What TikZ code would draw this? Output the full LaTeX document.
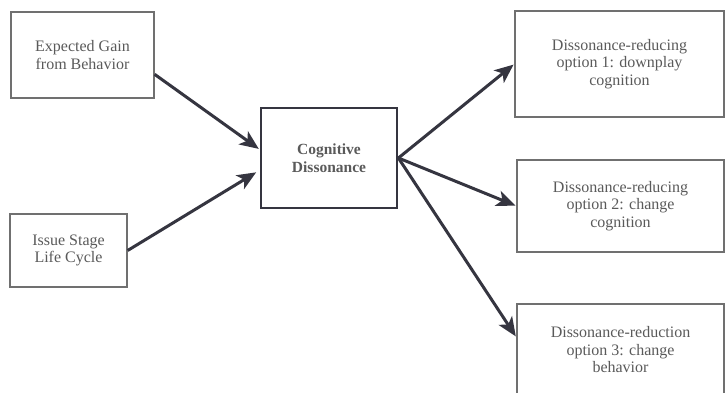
\documentclass[tikz,border=0pt]{standalone}
\usepackage{fontspec}
\setmainfont{Liberation Serif}
\usepackage{xcolor}
\usepackage{tikz}
\usetikzlibrary{arrows.meta}

\definecolor{boxgray}{HTML}{707070}
\definecolor{txtgray}{HTML}{5A5A5A}
\definecolor{arrowgray}{HTML}{353540}

\begin{document}
\begin{tikzpicture}[x=1pt, y=-1pt,
  box/.style={draw=boxgray, line width=1.3pt, fill=white, align=center,
    text=txtgray, font=\fontsize{16}{17.5}\selectfont, inner sep=2pt},
  mainbox/.style={box, draw=arrowgray, line width=2.8pt,
    font=\fontsize{15.5}{18}\selectfont\bfseries},
  link/.style={draw=arrowgray, line width=3pt, shorten >=1pt,
    -{Stealth[length=19pt, width=16pt, inset=5pt]}}]
%%%%% Frame %%%%%
\useasboundingbox (0,0) rectangle (726,393);
\clip (0,0) rectangle (726,393);
\fill[white] (0,0) rectangle (726,393);
%%%%% Boxes %%%%%
\node[box, minimum width=143pt, minimum height=86pt] (gain) at (82.5,55) {Expected Gain\\from Behavior};
\node[box, minimum width=117pt, minimum height=73pt] (issue) at (68.5,250.5) {Issue Stage\\Life Cycle};
\node[mainbox, minimum width=136pt, minimum height=100pt] (cog) at (329,158) {Cognitive\\Dissonance};
\node[box, minimum width=209pt, minimum height=106pt] (opt1) at (619.5,64) {Dissonance-reducing\\option 1: downplay\\cognition};
\node[box, minimum width=207pt, minimum height=92pt] (opt2) at (620.5,206) {Dissonance-reducing\\option 2: change\\cognition};
\node[box, minimum width=207pt, minimum height=92pt] (opt3) at (620.5,350) {Dissonance-reduction\\option 3: change\\behavior};
%%%%% Arrows %%%%%
\draw[link] (gain.-15) -- (cog.173);
\draw[link, shorten >=4pt] (issue.east) -- (cog.190);
\foreach \t/\a in {opt1/west, opt2/west, opt3/173}{
\draw[link] (cog.east) -- (\t.\a);
}
\end{tikzpicture}
\end{document}
